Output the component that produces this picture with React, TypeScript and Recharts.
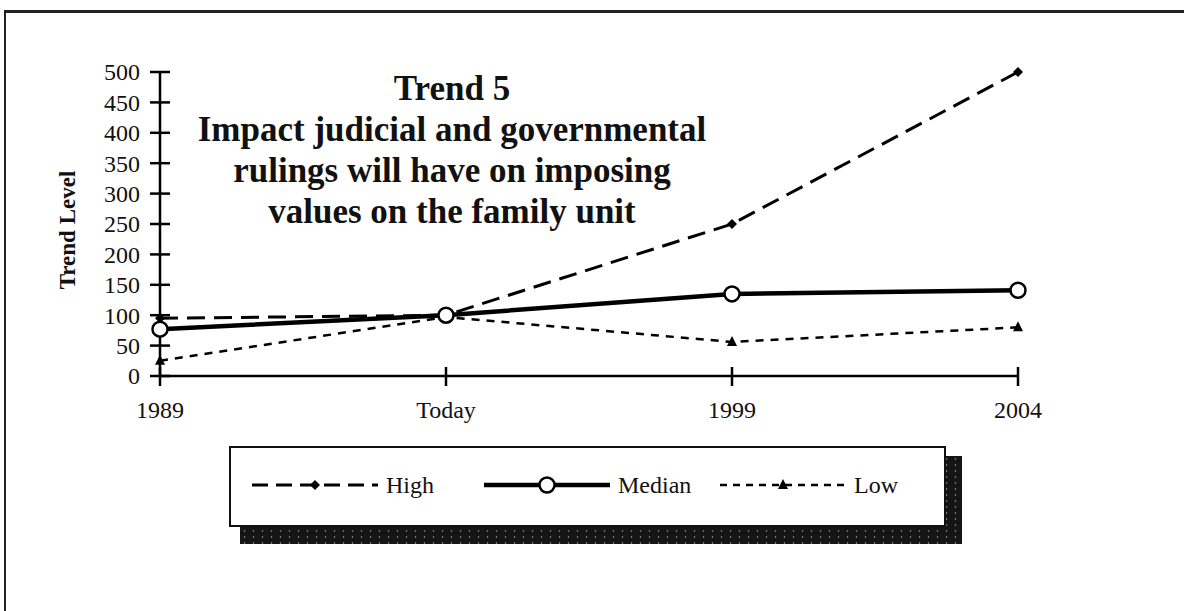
import React from 'react';
import { LineChart, Line, XAxis, YAxis } from 'recharts';

// values
const periods = ['1989', 'Today', '1999', '2004'];
const highValues = [95, 100, 250, 500];
const medianValues = [77, 100, 135, 141];
const lowValues = [25, 97, 56, 80];
const yTicks = [0, 50, 100, 150, 200, 250, 300, 350, 400, 450, 500];

const data = periods.map((period, i) => ({
  period,
  High: highValues[i],
  Median: medianValues[i],
  Low: lowValues[i],
}));

const FONT = '"Liberation Serif", "Times New Roman", serif';
const TICK_SIZE = 10;
const Y_TICK_MARGIN = 10;
const X_TICK_MARGIN = 15;

const Diamond = ({ cx, cy }: any) =>
  cx == null ? <g /> : (
    <polygon points={`${cx},${cy - 5} ${cx + 5},${cy} ${cx},${cy + 5} ${cx - 5},${cy}`} fill="#000" />
  );

const Triangle = ({ cx, cy }: any) =>
  cx == null ? <g /> : (
    <polygon points={`${cx},${cy - 6} ${cx + 5},${cy + 4} ${cx - 5},${cy + 4}`} fill="#000" />
  );

const Ring = ({ cx, cy }: any) =>
  cx == null ? <g /> : <circle cx={cx} cy={cy} r={7.5} fill="#fff" stroke="#000" strokeWidth={2.5} />;

const YTick = (props: any) => {
  const { x, y, payload } = props;
  const axisX = x + TICK_SIZE + Y_TICK_MARGIN;
  return (
    <g>
      <line x1={axisX - 10} x2={axisX + 10} y1={y} y2={y} stroke="#000" strokeWidth={2.5} />
      <text x={x} y={y} dy="0.35em" textAnchor="end" fontFamily={FONT} fontSize={24} fill="#111">
        {payload.value}
      </text>
    </g>
  );
};

const XTick = (props: any) => {
  const { x, y, payload } = props;
  const axisY = y - TICK_SIZE - X_TICK_MARGIN;
  return (
    <g>
      <line x1={x} x2={x} y1={axisY - 9} y2={axisY + 10} stroke="#000" strokeWidth={2.5} />
      <text x={x} y={y} dy="0.71em" textAnchor="middle" fontFamily={FONT} fontSize={24} fill="#111">
        {payload.value}
      </text>
    </g>
  );
};

const legendItems = [
  { name: 'High', dash: '16 8', width: 3, marker: 'diamond', left: 252 },
  { name: 'Median', dash: undefined, width: 4.5, marker: 'ring', left: 484 },
  { name: 'Low', dash: '7 6', width: 2.5, marker: 'triangle', left: 720 },
];

const LegendSample = ({ item }: any) => (
  <svg width={126} height={20} style={{ display: 'block' }}>
    <line x1={0} x2={126} y1={10} y2={10} stroke="#000" strokeWidth={item.width} strokeDasharray={item.dash} />
    {item.marker === 'diamond' && <Diamond cx={63} cy={10} />}
    {item.marker === 'ring' && <Ring cx={63} cy={10} />}
    {item.marker === 'triangle' && <Triangle cx={63} cy={10} />}
  </svg>
);

export default function App() {
  return (
    <div style={{ position: 'fixed', left: 0, top: 0, width: 1184, height: 611, background: '#fff', overflow: 'hidden' }}>
      {/* scanned page frame */}
      <div style={{ position: 'absolute', left: 4, top: 10, width: 1180, height: 3, background: '#222' }} />
      <div style={{ position: 'absolute', left: 4, top: 10, width: 2, height: 601, background: '#222' }} />

      <LineChart width={1184} height={611} data={data} margin={{ top: 72, right: 166, bottom: 195, left: 60 }}>
        <XAxis
          dataKey="period"
          height={40}
          axisLine={{ stroke: '#000', strokeWidth: 2.5 }}
          tickLine={false}
          tickSize={TICK_SIZE}
          tickMargin={X_TICK_MARGIN}
          tick={<XTick />}
          interval={0}
        />
        <YAxis
          width={100}
          domain={[0, 500]}
          ticks={yTicks}
          interval={0}
          axisLine={{ stroke: '#000', strokeWidth: 2.5 }}
          tickLine={false}
          tickSize={TICK_SIZE}
          tickMargin={Y_TICK_MARGIN}
          tick={<YTick />}
        />
        <Line
          type="linear"
          dataKey="High"
          stroke="#000"
          strokeWidth={3}
          strokeDasharray="18 9"
          dot={<Diamond />}
          isAnimationActive={false}
        />
        <Line
          type="linear"
          dataKey="Low"
          stroke="#000"
          strokeWidth={2.5}
          strokeDasharray="8 7"
          dot={<Triangle />}
          isAnimationActive={false}
        />
        <Line
          type="linear"
          dataKey="Median"
          stroke="#000"
          strokeWidth={4.5}
          dot={<Ring />}
          isAnimationActive={false}
        />
      </LineChart>

      {/* title */}
      <div
        style={{
          position: 'absolute',
          left: 152,
          top: 68,
          width: 600,
          textAlign: 'center',
          fontFamily: FONT,
          fontWeight: 'bold',
          fontSize: 35,
          lineHeight: '41px',
          color: '#111',
        }}
      >
        Trend 5<br />
        Impact judicial and governmental<br />
        rulings will have on imposing<br />
        values on the family unit
      </div>

      {/* y axis title */}
      <div
        style={{
          position: 'absolute',
          left: 68,
          top: 230,
          transform: 'translate(-50%, -50%) rotate(-90deg)',
          fontFamily: FONT,
          fontWeight: 'bold',
          fontSize: 23,
          whiteSpace: 'nowrap',
          color: '#111',
        }}
      >
        Trend Level
      </div>

      {/* legend with drop shadow */}
      <div
        style={{
          position: 'absolute',
          left: 240,
          top: 456,
          width: 722,
          height: 88,
          background: '#151515',
          backgroundImage: 'radial-gradient(rgba(255,255,255,0.45) 0.7px, transparent 1.3px)',
          backgroundSize: '9px 6px',
        }}
      />
      <div
        style={{
          position: 'absolute',
          left: 229,
          top: 446,
          width: 713,
          height: 77,
          border: '2px solid #111',
          background: '#fff',
        }}
      />
      {legendItems.map((item) => (
        <div
          key={item.name}
          style={{ position: 'absolute', left: item.left, top: 471, display: 'flex', alignItems: 'center', height: 28 }}
        >
          <LegendSample item={item} />
          <span style={{ marginLeft: 8, fontFamily: FONT, fontSize: 24, color: '#111' }}>{item.name}</span>
        </div>
      ))}
    </div>
  );
}
